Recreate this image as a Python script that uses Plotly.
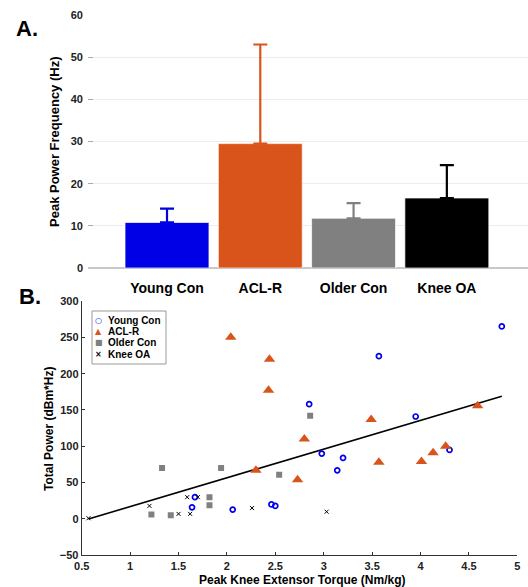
import plotly.graph_objects as go

# ---------------- Panel A data ----------------
groups = ["Young Con", "ACL-R", "Older Con", "Knee OA"]
peak_freq_mean = [10.8, 29.5, 11.8, 16.6]
peak_freq_sd = [3.3, 23.5, 3.6, 7.8]
bar_colors = ["#0000e6", "#d9541a", "#808080", "#000000"]

# ---------------- Panel B data ----------------
young_torque = [4.84, 3.57, 2.85, 3.95, 2.98, 3.20, 3.14, 4.30, 1.67, 1.64, 2.06, 2.46, 2.50]
young_power = [265, 224, 158, 141, 90, 84, 67, 95, 30, 16, 13, 20, 18]

acl_torque = [2.04, 2.44, 2.43, 3.49, 4.59, 2.80, 4.26, 4.13, 3.57, 4.01, 2.30, 2.73]
acl_power = [250, 220, 177, 137, 156, 110, 100, 91, 78, 79, 67, 54]

older_torque = [2.86, 1.33, 1.94, 2.54, 1.82, 1.82, 1.22, 1.42]
older_power = [142, 70, 70, 61, 30, 19, 6, 5]

oa_torque = [0.57, 1.20, 1.59, 1.70, 1.50, 1.62, 2.26, 3.03]
oa_power = [1, 18, 30, 30, 7, 7, 15, 10]

trend_torque = [0.57, 4.84]
trend_power = [0, 169]

legend_names = ["Young Con", "ACL-R", "Older Con", "Knee OA"]
legend_glyphs = ["○", "▲", "■", "×"]
legend_colors = ["#0000ee", "#d9541a", "#808080", "#000000"]

W, H = 528, 587
FONT = "Liberation Sans, Arial, sans-serif"


def px(x):
    return x / W


def py(y):
    return 1 - y / H


fig = go.Figure()

# Panel A bars
fig.add_trace(go.Bar(
    x=groups, y=peak_freq_mean,
    marker=dict(color=bar_colors, line=dict(color="rgba(255,255,255,0.7)", width=1)),
    xaxis="x", yaxis="y", showlegend=False,
))
for g, m, s, c in zip(groups, peak_freq_mean, peak_freq_sd, bar_colors):
    fig.add_trace(go.Bar(
        x=[g], y=[m], marker=dict(color="rgba(0,0,0,0)", line=dict(width=0)),
        error_y=dict(type="data", array=[s], arrayminus=[0], symmetric=False,
                     thickness=2.2, width=7, color=c),
        xaxis="x", yaxis="y", showlegend=False, hoverinfo="skip",
    ))

# Panel B scatter
fig.add_trace(go.Scatter(
    x=trend_torque, y=trend_power, mode="lines",
    line=dict(color="black", width=1.6), showlegend=False,
    xaxis="x2", yaxis="y2",
))
fig.add_trace(go.Scatter(
    x=young_torque, y=young_power, mode="markers", name="Young Con",
    marker=dict(symbol="circle-open", size=5, color="#0000ee", line=dict(width=1.7)),
    xaxis="x2", yaxis="y2", showlegend=False,
))
fig.add_trace(go.Scatter(
    x=acl_torque, y=acl_power, mode="markers", name="ACL-R",
    marker=dict(symbol="triangle-up", size=10, color="#d9541a"),
    xaxis="x2", yaxis="y2", showlegend=False,
))
fig.add_trace(go.Scatter(
    x=older_torque, y=older_power, mode="markers", name="Older Con",
    marker=dict(symbol="square", size=6, color="#808080"),
    xaxis="x2", yaxis="y2", showlegend=False,
))
fig.add_trace(go.Scatter(
    x=oa_torque, y=oa_power, mode="markers", name="Knee OA",
    marker=dict(symbol="x-thin-open", size=4, color="black", line=dict(width=1, color="black")),
    xaxis="x2", yaxis="y2", showlegend=False,
))

tickfont_a = dict(family=FONT, size=11, color="#222222", weight="bold")
tickfont_b = dict(family=FONT, size=11, color="#222222", weight="bold")

annotations = [
    dict(text="A.", x=px(14), y=py(28), xref="paper", yref="paper",
         xanchor="left", yanchor="middle", showarrow=False,
         font=dict(family=FONT, size=22, color="black", weight="bold")),
    dict(text="B.", x=px(17), y=py(297), xref="paper", yref="paper",
         xanchor="left", yanchor="middle", showarrow=False,
         font=dict(family=FONT, size=22, color="black", weight="bold")),
    dict(text="Peak Power Frequency (Hz)", x=px(55), y=py(142), xref="paper", yref="paper",
         xanchor="center", yanchor="middle", showarrow=False, textangle=-90,
         font=dict(family=FONT, size=13, color="black", weight="bold")),
    dict(text="Total Power (dBm*Hz)", x=px(49), y=py(429), xref="paper", yref="paper",
         xanchor="center", yanchor="middle", showarrow=False, textangle=-90,
         font=dict(family=FONT, size=12, color="black", weight="bold")),
    dict(text="Peak Knee Extensor Torque (Nm/kg)", x=px(302), y=py(580), xref="paper", yref="paper",
         xanchor="center", yanchor="middle", showarrow=False,
         font=dict(family=FONT, size=12, color="black", weight="bold")),
]

# Legend drawn as text rows inside a box
row_y = [320, 331.3, 342.6, 354]
for name, glyph, col, yy in zip(legend_names, legend_glyphs, legend_colors, row_y):
    annotations.append(dict(
        text=glyph, x=px(98.5), y=py(yy), xref="paper", yref="paper",
        xanchor="center", yanchor="middle", showarrow=False,
        font=dict(family="DejaVu Sans, sans-serif", size=8,
                  color=col, weight="bold"),
    ))
    annotations.append(dict(
        text=name, x=px(106), y=py(yy), xref="paper", yref="paper",
        xanchor="left", yanchor="middle", showarrow=False,
        font=dict(family=FONT, size=10, color="black", weight="bold"),
    ))

fig.update_layout(
    width=W, height=H,
    margin=dict(l=0, r=0, t=0, b=0, autoexpand=False),
    paper_bgcolor="white", plot_bgcolor="white",
    bargap=0.1, barmode="overlay",
    font=dict(family=FONT, color="black"),
    showlegend=False,
    xaxis=dict(
        domain=[px(88), 1.0], anchor="y",
        range=[-0.847, 3.87], type="category",
        showline=False, ticks="", showgrid=False, automargin=False,
        ticklabelstandoff=10,
        tickfont=dict(family=FONT, size=14, color="black", weight="bold"),
    ),
    yaxis=dict(
        domain=[py(268), py(15)], anchor="x",
        range=[0, 60], tickvals=[0, 10, 20, 30, 40, 50, 60],
        showgrid=True, gridcolor="#ececec", gridwidth=1,
        zeroline=True, zerolinecolor="#c8c8c8", zerolinewidth=1.5,
        showline=False, ticks="inside", ticklen=5, tickcolor="#aaaaaa",
        ticklabelstandoff=4, automargin=False,
        tickfont=tickfont_a,
    ),
    xaxis2=dict(
        domain=[px(81.7), px(517.3)], anchor="y2",
        range=[0.5, 5], tickvals=[0.5, 1, 1.5, 2, 2.5, 3, 3.5, 4, 4.5, 5],
        ticktext=["0.5", "1", "1.5", "2", "2.5", "3", "3.5", "4", "4.5", "5"],
        showgrid=False, zeroline=False, automargin=False,
        showline=True, linecolor="#333333", linewidth=1,
        ticks="inside", ticklen=3, tickcolor="#333333",
        tickfont=tickfont_b,
    ),
    yaxis2=dict(
        domain=[py(555.3), py(301)], anchor="x2",
        range=[-50, 300], tickvals=[-50, 0, 50, 100, 150, 200, 250, 300],
        showgrid=False, zeroline=False, automargin=False,
        showline=True, linecolor="#333333", linewidth=1,
        ticks="inside", ticklen=3, tickcolor="#333333",
        tickfont=tickfont_b,
    ),
    shapes=[dict(type="rect", xref="paper", yref="paper",
                 x0=px(92), x1=px(166), y0=py(364), y1=py(311),
                 line=dict(color="#999999", width=1), fillcolor="white", layer="above")],
    annotations=annotations,
)

fig.write_html(
    "out.html",
    config={"displayModeBar": False},
    post_script="document.body.style.margin='0px';document.body.style.padding='0px';"
                "document.body.style.overflow='hidden';",
)
